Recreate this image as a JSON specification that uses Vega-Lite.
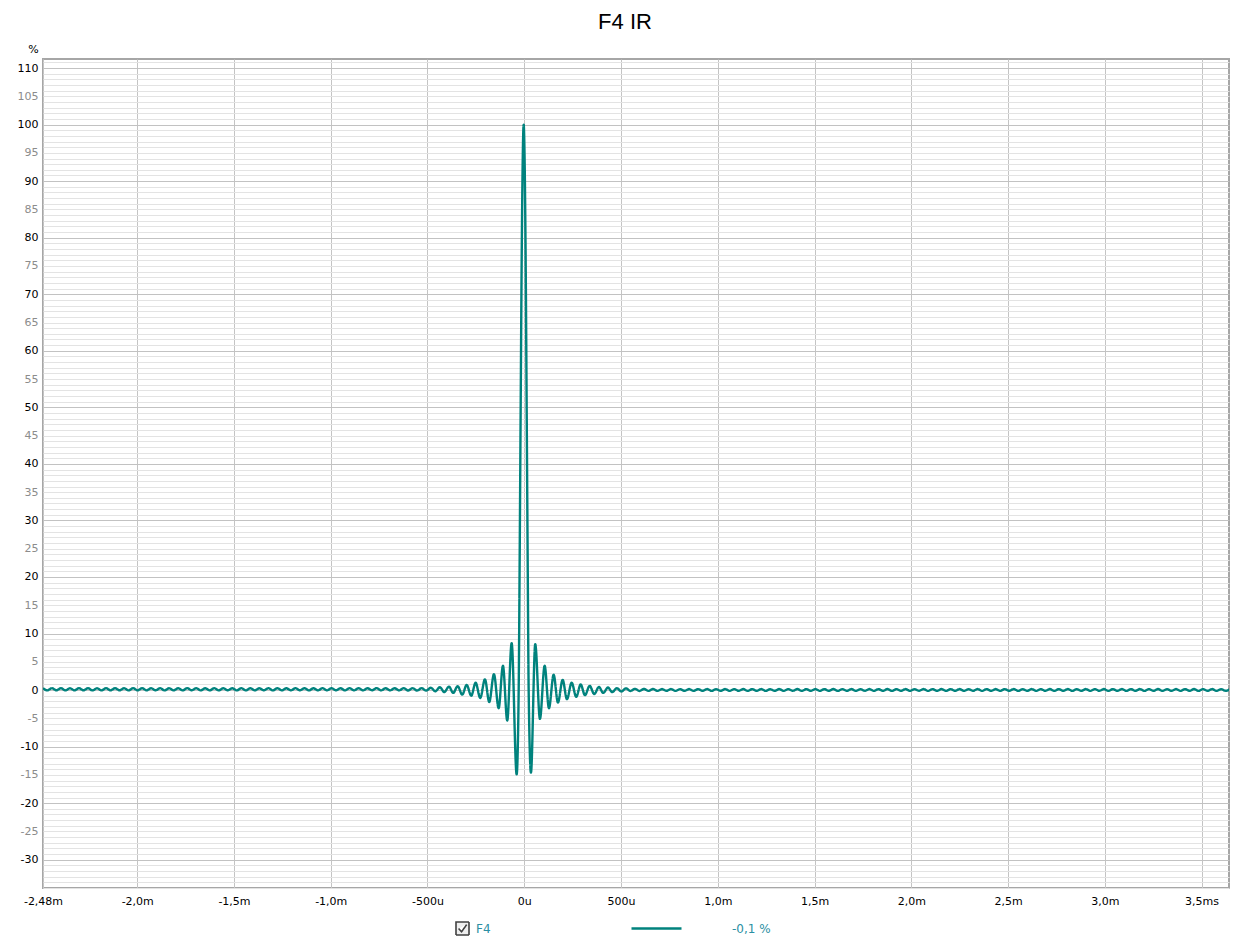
{
  "$schema": "https://vega.github.io/schema/vega-lite/v6.json",
  "width": 1186,
  "height": 829,
  "autosize": {"type": "none"},
  "padding": {"left": 43, "top": 59, "right": 21, "bottom": 54},
  "background": "white",
  "title": {"text": "F4 IR", "font": "Liberation Sans", "fontSize": 22, "fontWeight": "normal", "color": "#000000", "anchor": "middle", "dx": -11, "offset": 9},
  "config": {
    "view": {"stroke": "#a6a6a6", "strokeWidth": 2}
  },
  "data": {"values": [
    {"t":-2.4874,"v":0.32},{"t":-2.4641,"v":-0.05},{"t":-2.4408,"v":0.34},{"t":-2.4175,"v":-0.04},{"t":-2.3942,"v":0.33},{"t":-2.3709,"v":-0.06},{"t":-2.3476,"v":0.32},{"t":-2.3243,"v":-0.05},{"t":-2.301,"v":0.34},{"t":-2.2777,"v":-0.04},{"t":-2.2544,"v":0.33},{"t":-2.2311,"v":-0.06},{"t":-2.2078,"v":0.32},{"t":-2.1845,"v":-0.05},{"t":-2.1612,"v":0.34},{"t":-2.1379,"v":-0.05},{"t":-2.1146,"v":0.33},{"t":-2.0913,"v":-0.04},{"t":-2.068,"v":0.32},{"t":-2.0447,"v":-0.06},{"t":-2.0214,"v":0.34},{"t":-1.9981,"v":-0.05},{"t":-1.9748,"v":0.33},{"t":-1.9515,"v":-0.05},{"t":-1.9282,"v":0.32},{"t":-1.9049,"v":-0.04},{"t":-1.8816,"v":0.34},{"t":-1.8583,"v":-0.06},{"t":-1.835,"v":0.33},{"t":-1.8117,"v":-0.05},{"t":-1.7884,"v":0.32},{"t":-1.7651,"v":-0.05},{"t":-1.7418,"v":0.34},{"t":-1.7185,"v":-0.04},{"t":-1.6952,"v":0.33},{"t":-1.6719,"v":-0.06},{"t":-1.6486,"v":0.32},{"t":-1.6253,"v":-0.05},{"t":-1.602,"v":0.34},{"t":-1.5787,"v":-0.05},{"t":-1.5554,"v":0.33},{"t":-1.5321,"v":-0.04},{"t":-1.5088,"v":0.32},{"t":-1.4855,"v":-0.06},{"t":-1.4622,"v":0.34},{"t":-1.4389,"v":-0.05},{"t":-1.4156,"v":0.33},{"t":-1.3923,"v":-0.05},{"t":-1.369,"v":0.32},{"t":-1.3457,"v":-0.04},{"t":-1.3224,"v":0.34},{"t":-1.2991,"v":-0.06},{"t":-1.2758,"v":0.33},{"t":-1.2525,"v":-0.05},{"t":-1.2292,"v":0.32},{"t":-1.2059,"v":-0.05},{"t":-1.1826,"v":0.34},{"t":-1.1593,"v":-0.04},{"t":-1.136,"v":0.33},{"t":-1.1127,"v":-0.06},{"t":-1.0894,"v":0.32},{"t":-1.0661,"v":-0.05},{"t":-1.0428,"v":0.34},{"t":-1.0195,"v":-0.05},{"t":-0.9962,"v":0.33},{"t":-0.9729,"v":-0.04},{"t":-0.9496,"v":0.32},{"t":-0.9263,"v":-0.06},{"t":-0.903,"v":0.34},{"t":-0.8797,"v":-0.05},{"t":-0.8564,"v":0.33},{"t":-0.8331,"v":-0.05},{"t":-0.8098,"v":0.32},{"t":-0.7865,"v":-0.04},{"t":-0.7632,"v":0.34},{"t":-0.7399,"v":-0.06},{"t":-0.7166,"v":0.33},{"t":-0.6933,"v":-0.05},{"t":-0.67,"v":0.33},{"t":-0.6467,"v":-0.06},{"t":-0.6234,"v":0.34},{"t":-0.6001,"v":-0.07},{"t":-0.5768,"v":0.34},{"t":-0.5535,"v":-0.08},{"t":-0.5302,"v":0.35},{"t":-0.508,"v":-0.1},{"t":-0.4822,"v":0.4},{"t":-0.4599,"v":-0.2},{"t":-0.4357,"v":0.5},{"t":-0.4134,"v":-0.35},{"t":-0.3891,"v":0.6},{"t":-0.3669,"v":-0.5},{"t":-0.3442,"v":0.7},{"t":-0.3204,"v":-0.8},{"t":-0.2977,"v":0.9},{"t":-0.2739,"v":-1.0},{"t":-0.2512,"v":1.3},{"t":-0.2274,"v":-1.4},{"t":-0.2031,"v":1.9},{"t":-0.1809,"v":-2.1},{"t":-0.1566,"v":2.8},{"t":-0.1323,"v":-3.2},{"t":-0.1101,"v":4.3},{"t":-0.0879,"v":-5.4},{"t":-0.0651,"v":8.3},{"t":-0.0393,"v":-14.9},
    {"t":-0.0288,"v":0},{"t":-0.0237,"v":23},{"t":-0.0185,"v":50},{"t":-0.0133,"v":76},{"t":-0.0082,"v":93},{"t":-0.003,"v":100},{"t":0.0022,"v":93},{"t":0.0073,"v":76},{"t":0.0125,"v":50},{"t":0.0177,"v":23},{"t":0.0228,"v":0},
    {"t":0.0346,"v":-14.6},{"t":0.0568,"v":8.1},{"t":0.0811,"v":-5.1},{"t":0.1054,"v":4.3},{"t":0.1276,"v":-3.2},{"t":0.1519,"v":2.7},{"t":0.1742,"v":-2.2},{"t":0.1984,"v":1.8},{"t":0.2207,"v":-1.6},{"t":0.245,"v":1.3},{"t":0.2687,"v":-1.2},{"t":0.2915,"v":1.0},{"t":0.3137,"v":-0.9},{"t":0.338,"v":0.75},{"t":0.3618,"v":-0.7},{"t":0.386,"v":0.55},{"t":0.4083,"v":-0.5},{"t":0.4326,"v":0.45},{"t":0.4548,"v":-0.35},{"t":0.4791,"v":0.35},{"t":0.5013,"v":-0.25},{"t":0.5256,"v":0.3},
    {"t":0.5489,"v":-0.16},{"t":0.5722,"v":0.22},{"t":0.5955,"v":-0.15},{"t":0.6188,"v":0.2},{"t":0.6421,"v":-0.14},{"t":0.6654,"v":0.19},{"t":0.6887,"v":-0.14},{"t":0.712,"v":0.18},{"t":0.7353,"v":-0.13},{"t":0.7586,"v":0.18},{"t":0.7819,"v":-0.14},{"t":0.8052,"v":0.17},{"t":0.8285,"v":-0.13},{"t":0.8518,"v":0.18},{"t":0.8751,"v":-0.14},{"t":0.8984,"v":0.17},{"t":0.9217,"v":-0.13},{"t":0.945,"v":0.18},{"t":0.9683,"v":-0.14},{"t":0.9916,"v":0.17},{"t":1.0149,"v":-0.13},{"t":1.0382,"v":0.18},{"t":1.0615,"v":-0.14},{"t":1.0848,"v":0.17},{"t":1.1081,"v":-0.13},{"t":1.1314,"v":0.18},{"t":1.1547,"v":-0.14},{"t":1.178,"v":0.17},{"t":1.2013,"v":-0.13},{"t":1.2246,"v":0.18},{"t":1.2479,"v":-0.14},{"t":1.2712,"v":0.17},{"t":1.2945,"v":-0.13},{"t":1.3178,"v":0.18},{"t":1.3411,"v":-0.14},{"t":1.3644,"v":0.17},{"t":1.3877,"v":-0.13},{"t":1.411,"v":0.18},{"t":1.4343,"v":-0.14},{"t":1.4576,"v":0.17},{"t":1.4809,"v":-0.13},{"t":1.5042,"v":0.18},{"t":1.5275,"v":-0.14},{"t":1.5508,"v":0.17},{"t":1.5741,"v":-0.13},{"t":1.5974,"v":0.18},{"t":1.6207,"v":-0.14},{"t":1.644,"v":0.17},{"t":1.6673,"v":-0.13},{"t":1.6906,"v":0.18},{"t":1.7139,"v":-0.14},{"t":1.7372,"v":0.17},{"t":1.7605,"v":-0.13},{"t":1.7838,"v":0.18},{"t":1.8071,"v":-0.14},{"t":1.8304,"v":0.17},{"t":1.8537,"v":-0.13},{"t":1.877,"v":0.18},{"t":1.9003,"v":-0.14},{"t":1.9236,"v":0.17},{"t":1.9469,"v":-0.13},{"t":1.9702,"v":0.18},{"t":1.9935,"v":-0.14},{"t":2.0168,"v":0.17},{"t":2.0401,"v":-0.13},{"t":2.0634,"v":0.18},{"t":2.0867,"v":-0.14},{"t":2.11,"v":0.17},{"t":2.1333,"v":-0.13},{"t":2.1566,"v":0.18},{"t":2.1799,"v":-0.14},{"t":2.2032,"v":0.17},{"t":2.2265,"v":-0.13},{"t":2.2498,"v":0.18},{"t":2.2731,"v":-0.14},{"t":2.2964,"v":0.17},{"t":2.3197,"v":-0.13},{"t":2.343,"v":0.18},{"t":2.3663,"v":-0.14},{"t":2.3896,"v":0.17},{"t":2.4129,"v":-0.13},{"t":2.4362,"v":0.18},{"t":2.4595,"v":-0.14},{"t":2.4828,"v":0.17},{"t":2.5061,"v":-0.13},{"t":2.5294,"v":0.18},{"t":2.5527,"v":-0.14},{"t":2.576,"v":0.17},{"t":2.5993,"v":-0.13},{"t":2.6226,"v":0.18},{"t":2.6459,"v":-0.14},{"t":2.6692,"v":0.17},{"t":2.6925,"v":-0.13},{"t":2.7158,"v":0.18},{"t":2.7391,"v":-0.14},{"t":2.7624,"v":0.17},{"t":2.7857,"v":-0.13},{"t":2.809,"v":0.18},{"t":2.8323,"v":-0.14},{"t":2.8556,"v":0.17},{"t":2.8789,"v":-0.13},{"t":2.9022,"v":0.18},{"t":2.9255,"v":-0.14},{"t":2.9488,"v":0.17},{"t":2.9721,"v":-0.13},{"t":2.9954,"v":0.18},{"t":3.0187,"v":-0.14},{"t":3.042,"v":0.17},{"t":3.0653,"v":-0.13},{"t":3.0886,"v":0.18},{"t":3.1119,"v":-0.14},{"t":3.1352,"v":0.17},{"t":3.1585,"v":-0.13},{"t":3.1818,"v":0.18},{"t":3.2051,"v":-0.14},{"t":3.2284,"v":0.17},{"t":3.2517,"v":-0.13},{"t":3.275,"v":0.18},{"t":3.2983,"v":-0.14},{"t":3.3216,"v":0.17},{"t":3.3449,"v":-0.13},{"t":3.3682,"v":0.18},{"t":3.3915,"v":-0.14},{"t":3.4148,"v":0.17},{"t":3.4381,"v":-0.13},{"t":3.4614,"v":0.18},{"t":3.4847,"v":-0.14},{"t":3.508,"v":0.17},{"t":3.5313,"v":-0.13},{"t":3.5546,"v":0.18},{"t":3.5779,"v":-0.14},{"t":3.6012,"v":0.17},{"t":3.6245,"v":-0.13},{"t":3.6478,"v":0.18}
  ]},
  "mark": {"type": "line", "interpolate": "monotone", "strokeWidth": 2.4, "clip": true},
  "encoding": {
    "x": {
      "field": "t", "type": "quantitative",
      "scale": {"domain": [-2.487, 3.642], "nice": false, "zero": false},
      "axis": {
        "title": null,
        "values": [-2.487, -2, -1.5, -1, -0.5, 0, 0.5, 1, 1.5, 2, 2.5, 3, 3.5],
        "labelExpr": "{'-2.487':'-2,48m','-2':'-2,0m','-1.5':'-1,5m','-1':'-1,0m','-0.5':'-500u','0':'0u','0.5':'500u','1':'1,0m','1.5':'1,5m','2':'2,0m','2.5':'2,5m','3':'3,0m','3.5':'3,5ms'}['' + datum.value]",
        "grid": true, "gridColor": "#c4c4c4", "gridWidth": 1,
        "ticks": false, "domain": false,
        "labelFont": "DejaVu Sans", "labelFontSize": 11, "labelColor": "#000000",
        "labelPadding": 7, "labelFlush": false, "labelOverlap": false, "labelBound": false
      }
    },
    "y": {
      "field": "v", "type": "quantitative",
      "scale": {"domain": [-35, 111.6], "nice": false, "zero": false},
      "axis": {
        "title": "%", "titleAngle": 0, "titleX": -10, "titleY": -10, "titleAlign": "center", "titleBaseline": "middle",
        "titleFont": "DejaVu Sans", "titleFontSize": 11, "titleFontWeight": "normal", "titleColor": "#000000",
        "values": [-35,-34,-33,-32,-31,-30,-29,-28,-27,-26,-25,-24,-23,-22,-21,-20,-19,-18,-17,-16,-15,-14,-13,-12,-11,-10,-9,-8,-7,-6,-5,-4,-3,-2,-1,0,1,2,3,4,5,6,7,8,9,10,11,12,13,14,15,16,17,18,19,20,21,22,23,24,25,26,27,28,29,30,31,32,33,34,35,36,37,38,39,40,41,42,43,44,45,46,47,48,49,50,51,52,53,54,55,56,57,58,59,60,61,62,63,64,65,66,67,68,69,70,71,72,73,74,75,76,77,78,79,80,81,82,83,84,85,86,87,88,89,90,91,92,93,94,95,96,97,98,99,100,101,102,103,104,105,106,107,108,109,110,111],
        "labelExpr": "(datum.value % 5 == 0 && datum.value >= -30) ? ('' + datum.value) : ''",
        "labelColor": {"condition": {"test": "datum.value % 10 == 0", "value": "#000000"}, "value": "#8c8c8c"},
        "gridColor": {"condition": {"test": "datum.value % 10 == 0", "value": "#c2c2c2"}, "value": "#e3e3e3"},
        "grid": true, "gridWidth": 1, "ticks": false, "domain": false,
        "labelFont": "DejaVu Sans", "labelFontSize": 11, "labelPadding": 5,
        "labelOverlap": false, "labelBound": false, "labelFlush": false
      }
    },
    "color": {
      "datum": "-0,1 %", "type": "nominal",
      "scale": {"range": ["#00827d"]},
      "legend": {
        "title": null, "orient": "none", "legendX": 587, "legendY": 843, "padding": 0,
        "symbolType": "stroke", "symbolSize": 2500, "symbolStrokeWidth": 2.5,
        "labelColor": "#2b8fa3", "labelFont": "DejaVu Sans", "labelFontSize": 12, "labelOffset": 49
      }
    },
    "strokeDash": {
      "datum": "F4", "type": "nominal",
      "scale": {"range": [[1, 0]]},
      "legend": {
        "title": null, "orient": "none", "legendX": 412, "legendY": 862, "padding": 0,
        "symbolType": "M-1,-1H1V1H-1Z M-0.6,0L-0.15,0.5L0.65,-0.6", "symbolSize": 169, "symbolStrokeWidth": 1.6,
        "symbolStrokeColor": "#404040", "symbolFillColor": "#eeeeee",
        "labelColor": "#2b8fa3", "labelFont": "DejaVu Sans", "labelFontSize": 12, "labelOffset": 6
      }
    }
  }
}
